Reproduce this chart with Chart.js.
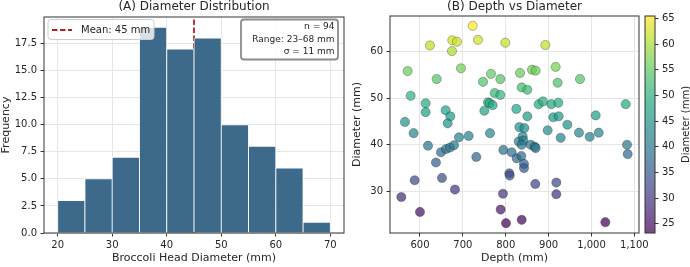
<!DOCTYPE html>
<html>
<head>
<meta charset="utf-8">
<script src="https://cdn.jsdelivr.net/npm/chart.js@4.4.1/dist/chart.umd.min.js"></script>
<style>
  body { margin: 0; background: #fff; width: 690px; height: 267px; overflow: hidden; position: relative; }
  canvas { position: absolute; top: 0; }
</style>
</head>
<body>
<canvas id="histChart" width="345" height="267" style="left:0"></canvas>
<canvas id="scatterChart" width="345" height="267" style="left:345px"></canvas>
<canvas id="cbarChart" width="50" height="267" style="left:640px"></canvas>
<script>
// --- data (A) histogram ---
const binEdges = [20, 25, 30, 35, 40, 45, 50, 55, 60, 65];
const binWidth = 5;
const binCounts = [3, 5, 7, 19, 17, 18, 10, 8, 6, 1];
const histXTicks = [20, 30, 40, 50, 60, 70];
const histYTicks = [0, 2.5, 5, 7.5, 10, 12.5, 15, 17.5];
const meanDiameter = 45;
const statsLines = ['n = 94', 'Range: 23–68 mm', 'σ = 11 mm'];

// --- data (B) scatter ---
const depthMm = [722.9, 623.3, 675.4, 686.3, 674.6, 735.3, 799.1, 892.4, 571.2, 638.9,
  695.6, 747.0, 765.6, 787.4, 833.3, 861.3, 869.8, 916.5, 921.1, 973.2,
  578.2, 613.2, 613.2, 774.2, 787.4, 837.2, 850.4, 758.6, 762.5, 769.5,
  750.1, 659.9, 670.8, 664.5, 565.0, 585.2, 618.7, 637.3, 649.0, 660.7,
  670.0, 679.3, 691.0, 713.5, 763.3, 731.4, 587.6, 651.3, 681.6, 556.5,
  600.0, 793.6, 788.2, 800.6, 837.2, 1032.3, 794.4, 813.8, 825.5, 836.4,
  808.4, 809.2, 842.6, 842.6, 869.0, 918.0, 918.0, 824.7, 850.4, 831.7,
  843.4, 839.5, 830.2, 841.1, 837.2, 858.2, 867.5, 869.8, 876.8, 886.9,
  906.4, 922.7, 911.0, 923.5, 943.7, 897.8, 928.1, 970.9, 995.8, 1016.8,
  1009.8, 1079.8, 1082.9, 1084.4];
const diamMm = [65.5, 61.3, 62.4, 62.1, 60.1, 62.5, 61.9, 61.4, 55.8, 54.1,
  56.4, 53.5, 55.2, 54.1, 55.4, 56.1, 55.9, 56.7, 53.3, 54.1,
  50.5, 48.9, 47.0, 51.1, 50.7, 52.3, 51.8, 49.1, 48.9, 48.5,
  47.3, 47.4, 46.1, 44.6, 44.9, 42.5, 39.8, 36.2, 38.4, 39.1,
  39.4, 39.9, 41.6, 41.9, 42.5, 37.4, 32.4, 32.9, 30.4, 28.8,
  25.6, 29.5, 26.1, 23.2, 23.9, 23.4, 38.9, 38.4, 37.1, 37.6,
  33.9, 33.4, 35.9, 35.0, 31.6, 31.9, 29.4, 47.7, 46.1, 43.8,
  43.6, 41.8, 40.7, 40.9, 40.0, 40.0, 39.6, 39.3, 48.7, 49.3,
  48.7, 49.0, 45.9, 46.1, 44.3, 43.1, 41.5, 42.6, 41.7, 42.6,
  46.3, 48.7, 40.0, 38.0];
const scatterXTicks = [600, 700, 800, 900, 1000, 1100];
const scatterYTicks = [30, 40, 50, 60];
const cbarTicks = [25, 30, 35, 40, 45, 50, 55, 60, 65];

Chart.defaults.font.family = "'DejaVu Sans', sans-serif";
Chart.defaults.color = '#262626';
Chart.defaults.animation = false;

const INK = '#262626';
const GRID = '#e6e6e6';
const SPINE = '#333333';

const VIRIDIS = ['#440154', '#482475', '#414487', '#355f8d', '#2a788e', '#21918c',
  '#22a884', '#44bf70', '#7ad151', '#bddf26', '#fde725'];

function hexRgb(h) {
  return [parseInt(h.slice(1, 3), 16), parseInt(h.slice(3, 5), 16), parseInt(h.slice(5, 7), 16)];
}

function viridis(t, alpha) {
  t = Math.max(0, Math.min(1, t));
  const p = t * (VIRIDIS.length - 1);
  const i = Math.min(Math.floor(p), VIRIDIS.length - 2);
  const f = p - i;
  const a = hexRgb(VIRIDIS[i]), b = hexRgb(VIRIDIS[i + 1]);
  const c = a.map((v, k) => Math.round(v + (b[k] - v) * f));
  return `rgba(${c[0]},${c[1]},${c[2]},${alpha})`;
}

function fixedTicks(values) {
  return scale => { scale.ticks = values.map(v => ({ value: v })); };
}

// matplotlib-like 5% margins
function padRange(min, max) {
  const m = (max - min) * 0.05;
  return [min - m, max + m];
}

const framePlugin = {
  id: 'frame',
  afterDatasetsDraw(chart) {
    const { ctx, chartArea: a } = chart;
    ctx.save();
    ctx.strokeStyle = SPINE;
    ctx.lineWidth = 1;
    ctx.strokeRect(a.left, a.top, a.right - a.left, a.bottom - a.top);
    ctx.restore();
  }
};

function roundBox(ctx, x, y, w, h, r) {
  ctx.beginPath();
  ctx.moveTo(x + r, y);
  ctx.arcTo(x + w, y, x + w, y + h, r);
  ctx.arcTo(x + w, y + h, x, y + h, r);
  ctx.arcTo(x, y + h, x, y, r);
  ctx.arcTo(x, y, x + w, y, r);
  ctx.closePath();
}

// legend + stats text box drawn inside the axes
const histOverlay = {
  id: 'histOverlay',
  afterDraw(chart) {
    const { ctx, chartArea: a } = chart;
    const meanDs = chart.data.datasets[1];
    ctx.save();

    // legend
    let x = a.left + 4, y = a.top + 2.5;
    roundBox(ctx, x, y, 106, 20, 3);
    ctx.fillStyle = 'rgba(255,255,255,0.8)';
    ctx.fill();
    ctx.strokeStyle = '#cccccc';
    ctx.lineWidth = 1;
    ctx.stroke();
    ctx.strokeStyle = meanDs.borderColor;
    ctx.lineWidth = meanDs.borderWidth;
    ctx.setLineDash(meanDs.borderDash);
    ctx.beginPath();
    ctx.moveTo(x + 4, y + 10.5);
    ctx.lineTo(x + 24, y + 10.5);
    ctx.stroke();
    ctx.setLineDash([]);
    ctx.fillStyle = INK;
    ctx.font = "10px 'DejaVu Sans'";
    ctx.textBaseline = 'middle';
    ctx.fillText(meanDs.label, x + 33, y + 10.5);

    // stats box
    const w = 97, h = 40;
    x = a.right - 6 - w; y = a.top + 2.5;
    roundBox(ctx, x, y, w, h, 3);
    ctx.fillStyle = 'rgba(255,255,255,0.85)';
    ctx.fill();
    ctx.strokeStyle = '#8c8c8c';
    ctx.stroke();
    ctx.fillStyle = INK;
    ctx.font = "9px 'DejaVu Sans'";
    ctx.textAlign = 'right';
    statsLines.forEach((t, i) => ctx.fillText(t, x + w - 3.5, y + 7 + i * 12.8));
    ctx.restore();
  }
};

const histX = [binEdges[0], binEdges[binEdges.length - 1] + binWidth];
const histXRange = padRange(histX[0], histX[1]);
const histYMax = Math.max(...binCounts) * 1.05;

new Chart(document.getElementById('histChart'), {
  type: 'bar',
  data: {
    datasets: [{
      label: 'Frequency',
      data: binEdges.map((e, i) => ({ x: e + binWidth / 2, y: binCounts[i] })),
      backgroundColor: 'rgba(40,90,125,0.9)',
      borderColor: '#ffffff',
      borderWidth: 0.8,
      barPercentage: 1,
      categoryPercentage: 1
    }, {
      type: 'line',
      label: `Mean: ${meanDiameter} mm`,
      data: [{ x: meanDiameter, y: 0 }, { x: meanDiameter, y: histYMax }],
      borderColor: '#b22222',
      borderWidth: 1.8,
      borderDash: [5.5, 2.5],
      pointRadius: 0,
      fill: false
    }]
  },
  options: {
    responsive: false,
    layout: { padding: { left: 0, right: 1, top: 0, bottom: 0 } },
    plugins: {
      legend: { display: false },
      tooltip: { enabled: false },
      title: {
        display: true, text: '(A) Diameter Distribution', fullSize: false,
        font: { size: 12, weight: 'normal' }, color: INK,
        padding: { top: 0, bottom: 2.6 }
      }
    },
    scales: {
      x: {
        type: 'linear', min: histXRange[0], max: histXRange[1], offset: false,
        afterBuildTicks: fixedTicks(histXTicks),
        afterFit: s => { s.height = 34; },
        ticks: { font: { size: 10 }, color: INK, padding: 3 },
        grid: { color: GRID, tickColor: SPINE, tickLength: 3.5, offset: false },
        border: { display: false },
        title: { display: true, text: 'Broccoli Head Diameter (mm)', font: { size: 11 }, color: INK, padding: { top: 0, bottom: 2 } }
      },
      y: {
        min: 0, max: histYMax,
        afterBuildTicks: fixedTicks(histYTicks),
        afterFit: s => { s.width = 44; },
        ticks: { font: { size: 10 }, color: INK, padding: 3.5, callback: v => v.toFixed(1) },
        grid: { color: GRID, tickColor: SPINE, tickLength: 3.5 },
        border: { display: false },
        title: { display: true, text: 'Frequency', font: { size: 11 }, color: INK, padding: { top: 0, bottom: 0 } }
      }
    }
  },
  plugins: [framePlugin, histOverlay]
});

// --- (B) scatter ---
const cMin = Math.min(...diamMm), cMax = Math.max(...diamMm);
const norm = v => (v - cMin) / (cMax - cMin);
const sxRange = padRange(Math.min(...depthMm), Math.max(...depthMm));
const syRange = padRange(cMin, cMax);

new Chart(document.getElementById('scatterChart'), {
  type: 'scatter',
  data: {
    datasets: [{
      label: 'Depth vs Diameter',
      data: depthMm.map((d, i) => ({ x: d, y: diamMm[i] })),
      backgroundColor: diamMm.map(v => viridis(norm(v), 0.72)),
      borderColor: 'rgba(0,0,0,0.45)',
      borderWidth: 0.6,
      pointRadius: 4.6
    }]
  },
  options: {
    responsive: false,
    layout: { padding: { left: 0, right: 51, top: 0, bottom: 0 } },
    plugins: {
      legend: { display: false },
      tooltip: { enabled: false },
      title: {
        display: true, text: '(B) Depth vs Diameter', fullSize: false,
        font: { size: 12, weight: 'normal' }, color: INK,
        padding: { top: 0, bottom: 1.6 }
      }
    },
    scales: {
      x: {
        type: 'linear', min: sxRange[0], max: sxRange[1],
        afterBuildTicks: fixedTicks(scatterXTicks),
        afterFit: s => { s.height = 34; },
        ticks: { font: { size: 10 }, color: INK, padding: 3 },
        grid: { color: GRID, tickColor: SPINE, tickLength: 3.5 },
        border: { display: false },
        title: { display: true, text: 'Depth (mm)', font: { size: 11 }, color: INK, padding: { top: 0, bottom: 2 } }
      },
      y: {
        min: syRange[0], max: syRange[1],
        afterBuildTicks: fixedTicks(scatterYTicks),
        afterFit: s => { s.width = 45; },
        ticks: { font: { size: 10 }, color: INK, padding: 3.5 },
        grid: { color: GRID, tickColor: SPINE, tickLength: 3.5 },
        border: { display: false },
        title: { display: true, text: 'Diameter (mm)', font: { size: 11 }, color: INK, padding: { top: 6, bottom: 0 } }
      }
    }
  },
  plugins: [framePlugin]
});

// --- colorbar ---
const cbarTitle = {
  id: 'cbarTitle',
  afterDraw(chart) {
    const { ctx, chartArea: a } = chart;
    ctx.save();
    ctx.translate(46, (a.top + a.bottom) / 2);
    ctx.rotate(-Math.PI / 2);
    ctx.fillStyle = INK;
    ctx.font = "10px 'DejaVu Sans'";
    ctx.textAlign = 'center';
    ctx.textBaseline = 'middle';
    ctx.fillText('Diameter (mm)', 0, 0);
    ctx.restore();
  }
};

new Chart(document.getElementById('cbarChart'), {
  type: 'bar',
  data: {
    labels: ['cbar'],
    datasets: [{
      data: [[cMin, cMax]],
      backgroundColor: ctx => {
        const a = ctx.chart.chartArea;
        if (!a) return 'transparent';
        const g = ctx.chart.ctx.createLinearGradient(0, a.bottom, 0, a.top);
        for (let i = 0; i <= 20; i++) g.addColorStop(i / 20, viridis(i / 20, 0.72));
        return g;
      },
      borderWidth: 0,
      barPercentage: 1,
      categoryPercentage: 1
    }]
  },
  options: {
    responsive: false,
    layout: { padding: { left: 5, right: 0, top: 16, bottom: 34 } },
    plugins: { legend: { display: false }, tooltip: { enabled: false } },
    scales: {
      x: { display: false },
      y: {
        position: 'right', min: cMin, max: cMax,
        afterBuildTicks: fixedTicks(cbarTicks),
        afterFit: s => { s.width = 35; },
        ticks: { font: { size: 10 }, color: INK, padding: 3.5 },
        grid: { drawOnChartArea: false, tickColor: SPINE, tickLength: 3.5 },
        border: { display: false }
      }
    }
  },
  plugins: [framePlugin, cbarTitle]
});
</script>
</body>
</html>
